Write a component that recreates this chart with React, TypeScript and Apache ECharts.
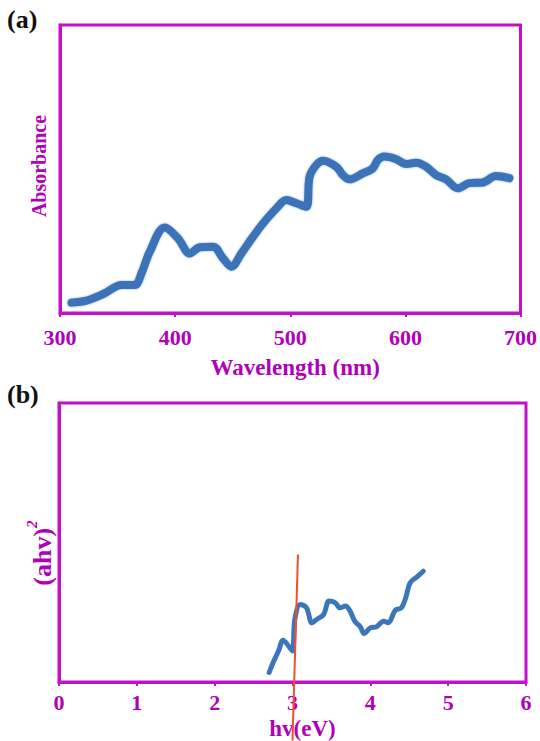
import React, { useEffect, useRef } from "react";
import * as echarts from "echarts";

// Panel (a): UV-vis absorbance
const wavelength = [310, 323, 337.6, 353.5, 365, 370.8, 378, 391, 402.6, 412.7, 421.4, 433, 441.6, 448.9, 457.6, 467.7, 476.3, 487.9, 496.6, 505.3, 514, 516.8, 522.6, 528.4, 540, 545.7, 551.5, 563, 571.7, 576, 581.9, 592, 600.7, 609.4, 618, 626.7, 635.4, 645.5, 655.6, 667.1, 678.7, 690.3];
const absorbance = [3.6, 4.3, 6.6, 9.7, 9.7, 13.8, 21.3, 29.7, 25.9, 20.7, 22.8, 23, 19, 16.1, 20.7, 26.5, 31.1, 36.3, 39.2, 38.1, 36.9, 47.3, 51.4, 52.9, 50.8, 47.9, 46.4, 48.5, 50.2, 53.1, 54.3, 53.4, 51.7, 52.2, 50.8, 47.9, 46.4, 43.3, 45.1, 45.3, 47.6, 46.8];
const wlTicks = [300, 400, 500, 600, 700];

// Panel (b): Tauc plot
const energy = [2.7, 2.75, 2.82, 2.88, 2.95, 3.0, 3.03, 3.1, 3.18, 3.25, 3.31, 3.4, 3.47, 3.55, 3.61, 3.68, 3.74, 3.8, 3.87, 3.92, 4.0, 4.08, 4.17, 4.23, 4.32, 4.4, 4.46, 4.51, 4.6, 4.68];
const tauc = [3.4, 6.9, 11.1, 15, 12.9, 11.1, 22.4, 27.8, 26.6, 21.2, 22.4, 24.2, 29, 28.4, 26.6, 27.2, 25.4, 21.8, 19.8, 17.4, 19.4, 19.8, 21.8, 21.2, 25.7, 26.6, 30.7, 35.5, 37.7, 39.7];
const fitX = [3.07, 3.0];
const fitY = [45.7, -21];
const eTicks = [0, 1, 2, 3, 4, 5, 6];

const MAG = "#c410c8";
const TXT = "#b000b8";
const FONT = "'Liberation Serif', 'Times New Roman', serif";

export default function App() {
  const ref = useRef<HTMLDivElement>(null);
  useEffect(() => {
    if (!ref.current) return;
    const chart = echarts.init(ref.current, null, { renderer: "svg" });
    const axisCommon = {
      axisLine: { show: true, lineStyle: { color: MAG, width: 3 } },
      splitLine: { show: false },
    };
    chart.setOption({
      animation: false,
      backgroundColor: "#ffffff",
      grid: [
        { left: 60, top: 25, width: 462, height: 288, show: true, borderColor: MAG, borderWidth: 3 },
        { left: 59, top: 403, width: 467, height: 280, show: true, borderColor: MAG, borderWidth: 3 },
      ],
      xAxis: [
        {
          gridIndex: 0, type: "value", min: wlTicks[0], max: wlTicks[wlTicks.length - 1], interval: 100,
          ...axisCommon,
          axisTick: { show: true, inside: false, length: 4, lineStyle: { color: MAG, width: 2 } },
          axisLabel: { color: TXT, fontFamily: FONT, fontWeight: "bold", fontSize: 22, margin: 13 },
          name: "Wavelength (nm)", nameLocation: "middle", nameGap: 43,
          nameTextStyle: { color: TXT, fontFamily: FONT, fontWeight: "bold", fontSize: 23, padding: [0, 0, 0, 10] },
        },
        {
          gridIndex: 1, type: "value", min: eTicks[0], max: eTicks[eTicks.length - 1], interval: 1,
          ...axisCommon,
          axisTick: { show: true, inside: false, length: 4, lineStyle: { color: MAG, width: 2 } },
          axisLabel: { color: TXT, fontFamily: FONT, fontWeight: "bold", fontSize: 22, margin: 9 },
          name: "hv(eV)", nameLocation: "middle", nameGap: 35,
          nameTextStyle: { color: TXT, fontFamily: FONT, fontWeight: "bold", fontSize: 23, padding: [0, 0, 0, 20] },
        },
      ],
      yAxis: [
        { gridIndex: 0, type: "value", min: 0, max: 100, ...axisCommon, axisTick: { show: false }, axisLabel: { show: false } },
        { gridIndex: 1, type: "value", min: 0, max: 100, ...axisCommon, axisTick: { show: false }, axisLabel: { show: false } },
      ],
      graphic: [
        { type: "text", left: 7, top: 6, style: { text: "(a)", font: `bold 26px ${FONT}`, fill: "#111" } },
        { type: "text", left: 7, top: 381, style: { text: "(b)", font: `bold 26px ${FONT}`, fill: "#111" } },
        {
          type: "text", x: 39, y: 166, rotation: Math.PI / 2,
          style: { text: "Absorbance", font: `bold 20px ${FONT}`, fill: TXT, align: "center", verticalAlign: "middle" },
        },
        {
          type: "text", x: 40, y: 553, rotation: Math.PI / 2,
          style: {
            text: "{b|(ahv)}{s|2}", fill: TXT, align: "center", verticalAlign: "middle",
            rich: {
              b: { fontSize: 26, fontFamily: FONT, fontWeight: "bold", fill: TXT, verticalAlign: "bottom" },
              s: { fontSize: 15, fontFamily: FONT, fontStyle: "italic", fontWeight: "bold", fill: TXT, verticalAlign: "top", padding: [0, 0, 16, 0] },
            },
          },
        },
      ],
      series: [
        {
          type: "line", xAxisIndex: 0, yAxisIndex: 0,
          data: wavelength.map((x, i) => [x, absorbance[i]]),
          smooth: 0.35, showSymbol: false,
          lineStyle: { color: "#3a72b8", width: 8, cap: "round", join: "round", shadowBlur: 2, shadowColor: "rgba(58,114,184,0.6)" },
        },
        {
          type: "line", xAxisIndex: 1, yAxisIndex: 1,
          data: energy.map((x, i) => [x, tauc[i]]),
          smooth: 0.35, showSymbol: false,
          lineStyle: { color: "#3b76bb", width: 5, cap: "round", join: "round" },
        },
        {
          type: "line", xAxisIndex: 1, yAxisIndex: 1, clip: false,
          data: fitX.map((x, i) => [x, fitY[i]]),
          showSymbol: false,
          lineStyle: { color: "#f0502a", width: 2 },
          z: 5,
        },
      ],
    });
    return () => chart.dispose();
  }, []);
  return <div ref={ref} style={{ position: "fixed", left: 0, top: 0, width: 540, height: 741 }} />;
}
